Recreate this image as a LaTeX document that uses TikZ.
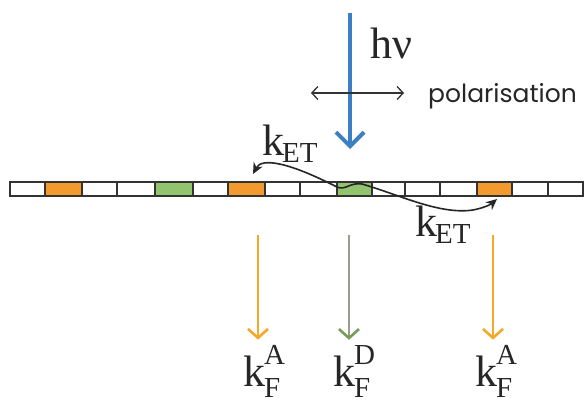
\documentclass[tikz,border=0pt]{standalone}
\usepackage{fontspec}
\setmainfont{Liberation Serif}
\newfontfamily\polfont{Poppins}
\usetikzlibrary{arrows.meta}
\definecolor{cblue}{HTML}{3C7FC4}
\definecolor{corange}{HTML}{F39A2E}
\definecolor{cgreen}{HTML}{92C46E}
\definecolor{carrow}{HTML}{F6A82A}
\definecolor{cgray}{HTML}{9C9C8C}
\definecolor{cline}{HTML}{333333}
\newcommand\bigsz{\fontsize{44}{48}\selectfont}
\newcommand\subsz{\fontsize{29}{30}\selectfont}
\newcommand\rateET{k\kern-2pt\raisebox{-7pt}{\subsz ET}}
\newcommand\rateF[1]{k\kern-1pt\rlap{\raisebox{22pt}{\subsz #1}}\raisebox{-11pt}{\subsz F}}
\tikzset{
  cell/.style={draw=cline, line width=1.2pt, minimum height=14pt, inner sep=0pt},
  lbl/.style={inner sep=0pt, anchor=base west, font=\bigsz, text=black!85},
  fluo/.style={line width=2pt, shorten >=5pt, -{Straight Barb[length=9pt,width=20pt,line width=2.6pt]}},
}
\begin{document}
\begin{tikzpicture}[x=1pt,y=-1pt]
\useasboundingbox[fill=white] (0,0) rectangle (585,404);
% strip of cells
\foreach [count=\i] \a/\b/\c in {10/45/white,45/82/corange,82/117/white,117/155/white,155/193/cgreen,193/228/white,228/265/corange,265/300/white,300/337/white,337/372/cgreen,372/405/white,405/440/white,440/477/white,477/512/corange,512/548/white,548/583/white}
  \node[cell, fill=\c, minimum width={(\b-\a)*1pt}] (c\i) at ({(\a+\b)/2},189) {};
% excitation
\coordinate (hvtop) at (350,13);
\coordinate (hvtip) at (350,149);
\draw[cblue, line width=4pt, -{Straight Barb[length=14pt,width=28pt,line width=4pt]}] (hvtop) -- (hvtip);
\node[lbl] (hv) at (370,58) {hν};
% polarisation
\coordinate (pl) at (311,93);
\coordinate (pr) at (404,93);
\draw[black!80, line width=1.3pt, {Straight Barb[length=6pt,width=13pt]}-{Straight Barb[length=6pt,width=13pt]}] (pl) -- (pr);
\node[inner sep=0pt, anchor=base west, font=\polfont\fontsize{25}{28}\selectfont, text=black!85] (pol) at (428,102) {polarisation};
% energy transfer
\node[lbl] (ket1) at (262,155) {\rateET};
\node[lbl] (ket2) at (415,236) {\rateET};
\draw[black!85, line width=1.6pt, {Stealth[length=11pt,width=10pt]}-{Stealth[length=11pt,width=10pt]}]
  (253,174) .. controls (262,157) and (290,163) .. (337,187)
  .. controls (345,191) and (350,182) .. (362,184)
  .. controls (400,195) and (440,215) .. (473,210)
  .. controls (483,208) and (490,205) .. (497,199);
% fluorescence
\node[lbl] (kf1) at (243,386) {\rateF{A}};
\node[lbl] (kf2) at (333,386) {\rateF{D}};
\node[lbl] (kf3) at (475,386) {\rateF{A}};
\coordinate (f1) at (258,235);
\coordinate (f2) at (349,235);
\coordinate (f3) at (493,235);
\draw[fluo, carrow] (f1) -- (f1 |- kf1.north);
\draw[fluo, cgray, -{Straight Barb[length=9pt,width=20pt,line width=2.6pt,color=cgreen!80!black]}] (f2) -- (f2 |- kf2.north);
\draw[fluo, carrow] (f3) -- (f3 |- kf3.north);
\end{tikzpicture}
\end{document}
